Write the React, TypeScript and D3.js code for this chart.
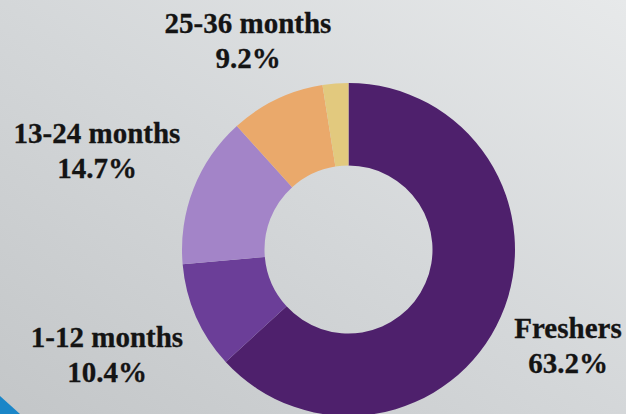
import React from "react";
import * as d3 from "d3";

const categories = ["Freshers", "1-12 months", "13-24 months", "25-36 months", "Other"];
const values = [63.2, 10.4, 14.7, 9.2, 2.5];
const valueLabels = ["63.2%", "10.4%", "14.7%", "9.2%", ""];
const colors = ["#4e206c", "#6b3e98", "#a384c8", "#eaa96b", "#e2c97e"];

const W = 626;
const H = 414;
const cx = 348.5;
const cy = 249.5;
const outerR = 166.5;
const innerR = 84;

// label anchor positions (center x, first baseline y)
const labelPos: Record<string, [number, number]> = {
  "Freshers": [568, 338],
  "1-12 months": [107, 347],
  "13-24 months": [97, 143],
  "25-36 months": [248, 33],
};

export default function App() {
  const pie = d3.pie<number>().sort(null).value((d) => d)(values);
  const arc = d3.arc<d3.PieArcDatum<number>>().innerRadius(innerR).outerRadius(outerR);
  return (
    <svg width={W} height={H} style={{ position: "fixed", left: 0, top: 0 }}>
      <defs>
        <linearGradient id="bg" x1="1" y1="0" x2="0" y2="1">
          <stop offset="0" stopColor="#e7e9ea" />
          <stop offset="0.5" stopColor="#d4d7d9" />
          <stop offset="1" stopColor="#c3c6c8" />
        </linearGradient>
      </defs>
      <rect x={0} y={0} width={W} height={H} fill="url(#bg)" />
      <polygon points={`0,396 20,414 0,414`} fill="#1a86c8" />
      <g transform={`translate(${cx},${cy})`}>
        {pie.map((p, i) => (
          <path key={i} d={arc(p) || ""} fill={colors[i]} />
        ))}
      </g>
      {categories.map((c, i) => {
        const pos = labelPos[c];
        if (!pos) return null;
        return (
          <text
            key={c}
            x={pos[0]}
            y={pos[1]}
            textAnchor="middle"
            style={{ fontFamily: "Liberation Serif, serif", fontWeight: 700, fontSize: 29 }}
            fill="#141414"
            stroke="#141414"
            strokeWidth={0.3}
          >
            <tspan x={pos[0]} dy={0}>{c}</tspan>
            <tspan x={pos[0]} dy={35}>{valueLabels[i]}</tspan>
          </text>
        );
      })}
    </svg>
  );
}
